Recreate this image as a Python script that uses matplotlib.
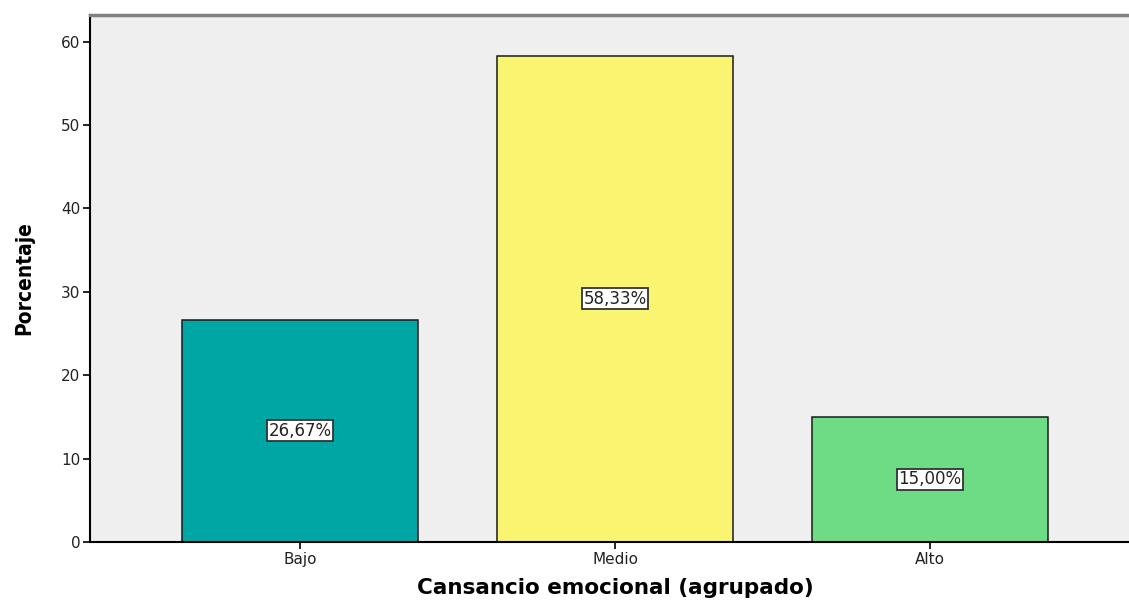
import matplotlib
matplotlib.use("Agg")
import matplotlib.pyplot as plt
from matplotlib import font_manager as fm

categories = ["Bajo", "Medio", "Alto"]
percentages = [26.67, 58.33, 15.00]
value_labels = ["26,67%", "58,33%", "15,00%"]
colors = ["#00A6A3", "#F9F571", "#6EDC84"]
y_ticks = [0, 10, 20, 30, 40, 50, 60]

names = {f.name for f in fm.fontManager.ttflist}
narrow = "Liberation Sans Narrow" if "Liberation Sans Narrow" in names else "DejaVu Sans"

fig = plt.figure(figsize=(11.29, 6), dpi=100)
ax = fig.add_axes([90 / 1129, 58 / 600, 1 - 90 / 1129, 527 / 600])
ax.set_facecolor("#EFEFEF")

x = range(len(categories))
ax.bar(x, percentages, width=0.749, color=colors, edgecolor="#1a1a1a", linewidth=1.1)

# boxed value labels at mid-height of each bar
for i, (v, lab) in enumerate(zip(percentages, value_labels)):
    ax.text(i, v / 2, lab, ha="center", va="center", fontsize=12, color="#222222",
            bbox=dict(boxstyle="square,pad=0.1", facecolor="white", edgecolor="#333333", linewidth=1.3))

ax.set_xlim(-0.667, 2.632)
ax.set_ylim(0, 63.2)
ax.set_xticks(list(x))
ax.set_xticklabels(categories)
ax.set_yticks(y_ticks)
ax.tick_params(axis="both", direction="out", length=5, width=1.2, labelsize=11, colors="black",
               labelcolor="#222222")
ax.tick_params(axis="y", pad=2)
ax.tick_params(axis="x", pad=2)

ax.spines["left"].set_linewidth(1.5)
ax.spines["bottom"].set_linewidth(1.5)
ax.spines["top"].set_color("#808080")
ax.spines["top"].set_linewidth(2.5)
ax.spines["right"].set_visible(False)

ax.set_ylabel("Porcentaje", fontsize=15, fontweight="bold", family=narrow, fontstretch="condensed")
ax.yaxis.set_label_coords(-0.054, 0.5)
ax.set_xlabel("Cansancio emocional (agrupado)", fontsize=15.5, fontweight="bold", family="DejaVu Sans")
ax.xaxis.set_label_coords(0.506, -0.088)
ax.xaxis.label.set_va("center")

fig.savefig("out.png", dpi=100)
